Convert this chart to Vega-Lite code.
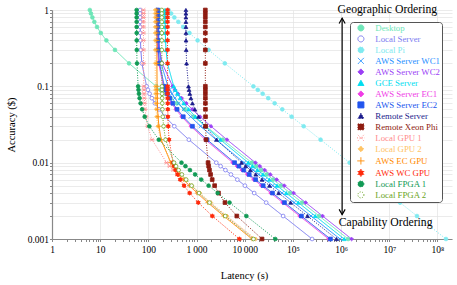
{
"$schema":"https://vega.github.io/schema/vega-lite/v6.json",
"width":400,"height":229,
"autosize":{"type":"none"},
"padding":{"left":52,"top":10,"right":5,"bottom":46},
"background":"white",
"config":{"font":"Liberation Serif","view":{"stroke":null}},
"datasets":{
"pts":[
{"s":"Desktop","a":1,"l":6.1},{"s":"Desktop","a":0.9,"l":6.43},{"s":"Desktop","a":0.8,"l":6.89},{"s":"Desktop","a":0.7,"l":7.56},{"s":"Desktop","a":0.6,"l":8.59},{"s":"Desktop","a":0.5,"l":10.3},{"s":"Desktop","a":0.4,"l":13.45},{"s":"Desktop","a":0.3,"l":20.26},{"s":"Desktop","a":0.2,"l":39.7},{"s":"Desktop","a":0.1,"l":144.7},{"s":"Desktop","a":0.09,"l":177.5},{"s":"Desktop","a":0.08,"l":223.4},{"s":"Desktop","a":0.07,"l":290.4},{"s":"Desktop","a":0.06,"l":393.6},{"s":"Desktop","a":0.05,"l":564.7},{"s":"Desktop","a":0.04,"l":879.7},{"s":"Desktop","a":0.03,"l":1560},{"s":"Desktop","a":0.02,"l":3505},{"s":"Desktop","a":0.01,"l":14005},{"s":"Desktop","a":0.009,"l":17289},{"s":"Desktop","a":0.008,"l":21880},{"s":"Desktop","a":0.007,"l":28576},{"s":"Desktop","a":0.006,"l":38894},{"s":"Desktop","a":0.005,"l":56005},{"s":"Desktop","a":0.004,"l":87505},{"s":"Desktop","a":0.003,"l":155560},{"s":"Desktop","a":0.002,"l":350005},{"s":"Desktop","a":0.001,"l":1400005},
{"s":"Local Server","a":1,"l":67.25},{"s":"Local Server","a":0.9,"l":67.31},{"s":"Local Server","a":0.8,"l":67.39},{"s":"Local Server","a":0.7,"l":67.51},{"s":"Local Server","a":0.6,"l":67.69},{"s":"Local Server","a":0.5,"l":68},{"s":"Local Server","a":0.4,"l":68.56},{"s":"Local Server","a":0.3,"l":69.78},{"s":"Local Server","a":0.2,"l":73.25},{"s":"Local Server","a":0.1,"l":92},{"s":"Local Server","a":0.09,"l":97.87},{"s":"Local Server","a":0.08,"l":106.1},{"s":"Local Server","a":0.07,"l":118},{"s":"Local Server","a":0.06,"l":136.4},{"s":"Local Server","a":0.05,"l":167},{"s":"Local Server","a":0.04,"l":223.3},{"s":"Local Server","a":0.03,"l":344.8},{"s":"Local Server","a":0.02,"l":692},{"s":"Local Server","a":0.01,"l":2567},{"s":"Local Server","a":0.009,"l":3153},{"s":"Local Server","a":0.008,"l":3973},{"s":"Local Server","a":0.007,"l":5169},{"s":"Local Server","a":0.006,"l":7011},{"s":"Local Server","a":0.005,"l":10067},{"s":"Local Server","a":0.004,"l":15692},{"s":"Local Server","a":0.003,"l":27845},{"s":"Local Server","a":0.002,"l":62567},{"s":"Local Server","a":0.001,"l":250067},
{"s":"Local Pi","a":1,"l":262},{"s":"Local Pi","a":0.9,"l":297.2},{"s":"Local Pi","a":0.8,"l":346.4},{"s":"Local Pi","a":0.7,"l":418.1},{"s":"Local Pi","a":0.6,"l":528.7},{"s":"Local Pi","a":0.5,"l":712},{"s":"Local Pi","a":0.4,"l":1049.5},{"s":"Local Pi","a":0.3,"l":1778.7},{"s":"Local Pi","a":0.2,"l":3862},{"s":"Local Pi","a":0.1,"l":15112},{"s":"Local Pi","a":0.09,"l":18631},{"s":"Local Pi","a":0.08,"l":23550},{"s":"Local Pi","a":0.07,"l":30724},{"s":"Local Pi","a":0.06,"l":41779},{"s":"Local Pi","a":0.05,"l":60112},{"s":"Local Pi","a":0.04,"l":93862},{"s":"Local Pi","a":0.03,"l":166779},{"s":"Local Pi","a":0.02,"l":375112},{"s":"Local Pi","a":0.01,"l":1500112},{"s":"Local Pi","a":0.009,"l":1851964},{"s":"Local Pi","a":0.008,"l":2343862},{"s":"Local Pi","a":0.007,"l":3061336},{"s":"Local Pi","a":0.006,"l":4166779},{"s":"Local Pi","a":0.005,"l":6000112},{"s":"Local Pi","a":0.004,"l":9375112},{"s":"Local Pi","a":0.003,"l":16666779},{"s":"Local Pi","a":0.002,"l":37500112},{"s":"Local Pi","a":0.001,"l":150000112},
{"s":"AWS Server WC1","a":1,"l":160.95},{"s":"AWS Server WC1","a":0.9,"l":161.17},{"s":"AWS Server WC1","a":0.8,"l":161.48},{"s":"AWS Server WC1","a":0.7,"l":161.94},{"s":"AWS Server WC1","a":0.6,"l":162.64},{"s":"AWS Server WC1","a":0.5,"l":163.8},{"s":"AWS Server WC1","a":0.4,"l":165.94},{"s":"AWS Server WC1","a":0.3,"l":170.56},{"s":"AWS Server WC1","a":0.2,"l":183.75},{"s":"AWS Server WC1","a":0.1,"l":255},{"s":"AWS Server WC1","a":0.09,"l":277.3},{"s":"AWS Server WC1","a":0.08,"l":308.4},{"s":"AWS Server WC1","a":0.07,"l":353.9},{"s":"AWS Server WC1","a":0.06,"l":423.9},{"s":"AWS Server WC1","a":0.05,"l":540},{"s":"AWS Server WC1","a":0.04,"l":753.8},{"s":"AWS Server WC1","a":0.03,"l":1215.6},{"s":"AWS Server WC1","a":0.02,"l":2535},{"s":"AWS Server WC1","a":0.01,"l":9660},{"s":"AWS Server WC1","a":0.009,"l":11889},{"s":"AWS Server WC1","a":0.008,"l":15004},{"s":"AWS Server WC1","a":0.007,"l":19548},{"s":"AWS Server WC1","a":0.006,"l":26549},{"s":"AWS Server WC1","a":0.005,"l":38160},{"s":"AWS Server WC1","a":0.004,"l":59535},{"s":"AWS Server WC1","a":0.003,"l":105716},{"s":"AWS Server WC1","a":0.002,"l":237660},{"s":"AWS Server WC1","a":0.001,"l":950160},
{"s":"AWS Server WC2","a":1,"l":154.65},{"s":"AWS Server WC2","a":0.9,"l":155.04},{"s":"AWS Server WC2","a":0.8,"l":155.58},{"s":"AWS Server WC2","a":0.7,"l":156.37},{"s":"AWS Server WC2","a":0.6,"l":157.58},{"s":"AWS Server WC2","a":0.5,"l":159.6},{"s":"AWS Server WC2","a":0.4,"l":163.31},{"s":"AWS Server WC2","a":0.3,"l":171.33},{"s":"AWS Server WC2","a":0.2,"l":194.25},{"s":"AWS Server WC2","a":0.1,"l":318},{"s":"AWS Server WC2","a":0.09,"l":356.7},{"s":"AWS Server WC2","a":0.08,"l":410.8},{"s":"AWS Server WC2","a":0.07,"l":489.7},{"s":"AWS Server WC2","a":0.06,"l":611.3},{"s":"AWS Server WC2","a":0.05,"l":813},{"s":"AWS Server WC2","a":0.04,"l":1184},{"s":"AWS Server WC2","a":0.03,"l":1986},{"s":"AWS Server WC2","a":0.02,"l":4278},{"s":"AWS Server WC2","a":0.01,"l":16653},{"s":"AWS Server WC2","a":0.009,"l":20524},{"s":"AWS Server WC2","a":0.008,"l":25934},{"s":"AWS Server WC2","a":0.007,"l":33826},{"s":"AWS Server WC2","a":0.006,"l":45987},{"s":"AWS Server WC2","a":0.005,"l":66153},{"s":"AWS Server WC2","a":0.004,"l":103278},{"s":"AWS Server WC2","a":0.003,"l":183486},{"s":"AWS Server WC2","a":0.002,"l":412653},{"s":"AWS Server WC2","a":0.001,"l":1650153},
{"s":"GCE Server","a":1,"l":221.16},{"s":"GCE Server","a":0.9,"l":221.43},{"s":"GCE Server","a":0.8,"l":221.81},{"s":"GCE Server","a":0.7,"l":222.37},{"s":"GCE Server","a":0.6,"l":223.22},{"s":"GCE Server","a":0.5,"l":224.64},{"s":"GCE Server","a":0.4,"l":227.25},{"s":"GCE Server","a":0.3,"l":232.89},{"s":"GCE Server","a":0.2,"l":249},{"s":"GCE Server","a":0.1,"l":336},{"s":"GCE Server","a":0.09,"l":363.2},{"s":"GCE Server","a":0.08,"l":401.3},{"s":"GCE Server","a":0.07,"l":456.7},{"s":"GCE Server","a":0.06,"l":542.2},{"s":"GCE Server","a":0.05,"l":684},{"s":"GCE Server","a":0.04,"l":945},{"s":"GCE Server","a":0.03,"l":1508.9},{"s":"GCE Server","a":0.02,"l":3120},{"s":"GCE Server","a":0.01,"l":11820},{"s":"GCE Server","a":0.009,"l":14541},{"s":"GCE Server","a":0.008,"l":18345},{"s":"GCE Server","a":0.007,"l":23893},{"s":"GCE Server","a":0.006,"l":32442},{"s":"GCE Server","a":0.005,"l":46620},{"s":"GCE Server","a":0.004,"l":72720},{"s":"GCE Server","a":0.003,"l":129109},{"s":"GCE Server","a":0.002,"l":290220},{"s":"GCE Server","a":0.001,"l":1160220},
{"s":"AWS Server EC1","a":1,"l":150.55},{"s":"AWS Server EC1","a":0.9,"l":150.68},{"s":"AWS Server EC1","a":0.8,"l":150.86},{"s":"AWS Server EC1","a":0.7,"l":151.12},{"s":"AWS Server EC1","a":0.6,"l":151.53},{"s":"AWS Server EC1","a":0.5,"l":152.2},{"s":"AWS Server EC1","a":0.4,"l":153.44},{"s":"AWS Server EC1","a":0.3,"l":156.11},{"s":"AWS Server EC1","a":0.2,"l":163.75},{"s":"AWS Server EC1","a":0.1,"l":205},{"s":"AWS Server EC1","a":0.09,"l":217.9},{"s":"AWS Server EC1","a":0.08,"l":235.9},{"s":"AWS Server EC1","a":0.07,"l":262.2},{"s":"AWS Server EC1","a":0.06,"l":302.8},{"s":"AWS Server EC1","a":0.05,"l":370},{"s":"AWS Server EC1","a":0.04,"l":493.8},{"s":"AWS Server EC1","a":0.03,"l":761.1},{"s":"AWS Server EC1","a":0.02,"l":1525},{"s":"AWS Server EC1","a":0.01,"l":5650},{"s":"AWS Server EC1","a":0.009,"l":6940},{"s":"AWS Server EC1","a":0.008,"l":8744},{"s":"AWS Server EC1","a":0.007,"l":11374},{"s":"AWS Server EC1","a":0.006,"l":15428},{"s":"AWS Server EC1","a":0.005,"l":22150},{"s":"AWS Server EC1","a":0.004,"l":34525},{"s":"AWS Server EC1","a":0.003,"l":61261},{"s":"AWS Server EC1","a":0.002,"l":137650},{"s":"AWS Server EC1","a":0.001,"l":550150},
{"s":"AWS Server EC2","a":1,"l":155.6},{"s":"AWS Server EC2","a":0.9,"l":155.74},{"s":"AWS Server EC2","a":0.8,"l":155.94},{"s":"AWS Server EC2","a":0.7,"l":156.22},{"s":"AWS Server EC2","a":0.6,"l":156.67},{"s":"AWS Server EC2","a":0.5,"l":157.4},{"s":"AWS Server EC2","a":0.4,"l":158.75},{"s":"AWS Server EC2","a":0.3,"l":161.67},{"s":"AWS Server EC2","a":0.2,"l":170},{"s":"AWS Server EC2","a":0.1,"l":215},{"s":"AWS Server EC2","a":0.09,"l":229.1},{"s":"AWS Server EC2","a":0.08,"l":248.8},{"s":"AWS Server EC2","a":0.07,"l":277.4},{"s":"AWS Server EC2","a":0.06,"l":321.7},{"s":"AWS Server EC2","a":0.05,"l":395},{"s":"AWS Server EC2","a":0.04,"l":530},{"s":"AWS Server EC2","a":0.03,"l":821.7},{"s":"AWS Server EC2","a":0.02,"l":1655},{"s":"AWS Server EC2","a":0.01,"l":6155},{"s":"AWS Server EC2","a":0.009,"l":7563},{"s":"AWS Server EC2","a":0.008,"l":9530},{"s":"AWS Server EC2","a":0.007,"l":12400},{"s":"AWS Server EC2","a":0.006,"l":16822},{"s":"AWS Server EC2","a":0.005,"l":24155},{"s":"AWS Server EC2","a":0.004,"l":37655},{"s":"AWS Server EC2","a":0.003,"l":66822},{"s":"AWS Server EC2","a":0.002,"l":150155},{"s":"AWS Server EC2","a":0.001,"l":600155},
{"s":"Remote Server","a":1,"l":600.8},{"s":"Remote Server","a":0.9,"l":600.99},{"s":"Remote Server","a":0.8,"l":601.25},{"s":"Remote Server","a":0.7,"l":601.63},{"s":"Remote Server","a":0.6,"l":602.22},{"s":"Remote Server","a":0.5,"l":603.2},{"s":"Remote Server","a":0.4,"l":605},{"s":"Remote Server","a":0.3,"l":608.9},{"s":"Remote Server","a":0.2,"l":620},{"s":"Remote Server","a":0.1,"l":680},{"s":"Remote Server","a":0.09,"l":698.8},{"s":"Remote Server","a":0.08,"l":725},{"s":"Remote Server","a":0.07,"l":763.3},{"s":"Remote Server","a":0.06,"l":822.2},{"s":"Remote Server","a":0.05,"l":920},{"s":"Remote Server","a":0.04,"l":1100},{"s":"Remote Server","a":0.03,"l":1488.9},{"s":"Remote Server","a":0.02,"l":2600},{"s":"Remote Server","a":0.01,"l":8600},{"s":"Remote Server","a":0.009,"l":10477},{"s":"Remote Server","a":0.008,"l":13100},{"s":"Remote Server","a":0.007,"l":16927},{"s":"Remote Server","a":0.006,"l":22822},{"s":"Remote Server","a":0.005,"l":32600},{"s":"Remote Server","a":0.004,"l":50600},{"s":"Remote Server","a":0.003,"l":89489},{"s":"Remote Server","a":0.002,"l":200600},{"s":"Remote Server","a":0.001,"l":800600},
{"s":"Remote Xeon Phi","a":1,"l":1520},{"s":"Remote Xeon Phi","a":0.9,"l":1520},{"s":"Remote Xeon Phi","a":0.8,"l":1520},{"s":"Remote Xeon Phi","a":0.7,"l":1520.1},{"s":"Remote Xeon Phi","a":0.6,"l":1520.1},{"s":"Remote Xeon Phi","a":0.5,"l":1520.1},{"s":"Remote Xeon Phi","a":0.4,"l":1520.1},{"s":"Remote Xeon Phi","a":0.3,"l":1520.2},{"s":"Remote Xeon Phi","a":0.2,"l":1520.5},{"s":"Remote Xeon Phi","a":0.1,"l":1522.1},{"s":"Remote Xeon Phi","a":0.09,"l":1522.6},{"s":"Remote Xeon Phi","a":0.08,"l":1523.3},{"s":"Remote Xeon Phi","a":0.07,"l":1524.3},{"s":"Remote Xeon Phi","a":0.06,"l":1525.9},{"s":"Remote Xeon Phi","a":0.05,"l":1528.5},{"s":"Remote Xeon Phi","a":0.04,"l":1533.3},{"s":"Remote Xeon Phi","a":0.03,"l":1543.7},{"s":"Remote Xeon Phi","a":0.02,"l":1573},{"s":"Remote Xeon Phi","a":0.01,"l":1733},{"s":"Remote Xeon Phi","a":0.009,"l":1783},{"s":"Remote Xeon Phi","a":0.008,"l":1853},{"s":"Remote Xeon Phi","a":0.007,"l":1955},{"s":"Remote Xeon Phi","a":0.006,"l":2112},{"s":"Remote Xeon Phi","a":0.005,"l":2372},{"s":"Remote Xeon Phi","a":0.004,"l":2851},{"s":"Remote Xeon Phi","a":0.003,"l":3887},{"s":"Remote Xeon Phi","a":0.002,"l":6845},{"s":"Remote Xeon Phi","a":0.001,"l":22820},
{"s":"Local GPU 1","a":1,"l":79.02},{"s":"Local GPU 1","a":0.9,"l":79.02},{"s":"Local GPU 1","a":0.8,"l":79.03},{"s":"Local GPU 1","a":0.7,"l":79.03},{"s":"Local GPU 1","a":0.6,"l":79.04},{"s":"Local GPU 1","a":0.5,"l":79.06},{"s":"Local GPU 1","a":0.4,"l":79.1},{"s":"Local GPU 1","a":0.3,"l":79.18},{"s":"Local GPU 1","a":0.2,"l":79.4},{"s":"Local GPU 1","a":0.1,"l":80.6},{"s":"Local GPU 1","a":0.09,"l":80.98},{"s":"Local GPU 1","a":0.08,"l":81.5},{"s":"Local GPU 1","a":0.07,"l":82.27},{"s":"Local GPU 1","a":0.06,"l":83.44},{"s":"Local GPU 1","a":0.05,"l":85.4},{"s":"Local GPU 1","a":0.04,"l":89},{"s":"Local GPU 1","a":0.03,"l":96.78},{"s":"Local GPU 1","a":0.02,"l":119},{"s":"Local GPU 1","a":0.01,"l":239},{"s":"Local GPU 1","a":0.009,"l":276.5},{"s":"Local GPU 1","a":0.008,"l":329},{"s":"Local GPU 1","a":0.007,"l":405.5},{"s":"Local GPU 1","a":0.006,"l":523.4},{"s":"Local GPU 1","a":0.005,"l":719},{"s":"Local GPU 1","a":0.004,"l":1079},{"s":"Local GPU 1","a":0.003,"l":1856.8},{"s":"Local GPU 1","a":0.002,"l":4079},{"s":"Local GPU 1","a":0.001,"l":16079},
{"s":"Local GPU 2","a":1,"l":138.02},{"s":"Local GPU 2","a":0.9,"l":138.02},{"s":"Local GPU 2","a":0.8,"l":138.03},{"s":"Local GPU 2","a":0.7,"l":138.03},{"s":"Local GPU 2","a":0.6,"l":138.05},{"s":"Local GPU 2","a":0.5,"l":138.07},{"s":"Local GPU 2","a":0.4,"l":138.1},{"s":"Local GPU 2","a":0.3,"l":138.18},{"s":"Local GPU 2","a":0.2,"l":138.42},{"s":"Local GPU 2","a":0.1,"l":139.66},{"s":"Local GPU 2","a":0.09,"l":140.05},{"s":"Local GPU 2","a":0.08,"l":140.59},{"s":"Local GPU 2","a":0.07,"l":141.39},{"s":"Local GPU 2","a":0.06,"l":142.61},{"s":"Local GPU 2","a":0.05,"l":144.64},{"s":"Local GPU 2","a":0.04,"l":148.38},{"s":"Local GPU 2","a":0.03,"l":156.4},{"s":"Local GPU 2","a":0.02,"l":179.5},{"s":"Local GPU 2","a":0.01,"l":304},{"s":"Local GPU 2","a":0.009,"l":343},{"s":"Local GPU 2","a":0.008,"l":397.4},{"s":"Local GPU 2","a":0.007,"l":476.8},{"s":"Local GPU 2","a":0.006,"l":599.1},{"s":"Local GPU 2","a":0.005,"l":802},{"s":"Local GPU 2","a":0.004,"l":1175.5},{"s":"Local GPU 2","a":0.003,"l":1982},{"s":"Local GPU 2","a":0.002,"l":4288},{"s":"Local GPU 2","a":0.001,"l":16738},
{"s":"AWS EC GPU","a":1,"l":150.01},{"s":"AWS EC GPU","a":0.9,"l":150.02},{"s":"AWS EC GPU","a":0.8,"l":150.02},{"s":"AWS EC GPU","a":0.7,"l":150.03},{"s":"AWS EC GPU","a":0.6,"l":150.04},{"s":"AWS EC GPU","a":0.5,"l":150.06},{"s":"AWS EC GPU","a":0.4,"l":150.09},{"s":"AWS EC GPU","a":0.3,"l":150.16},{"s":"AWS EC GPU","a":0.2,"l":150.35},{"s":"AWS EC GPU","a":0.1,"l":151.4},{"s":"AWS EC GPU","a":0.09,"l":151.73},{"s":"AWS EC GPU","a":0.08,"l":152.19},{"s":"AWS EC GPU","a":0.07,"l":152.86},{"s":"AWS EC GPU","a":0.06,"l":153.89},{"s":"AWS EC GPU","a":0.05,"l":155.6},{"s":"AWS EC GPU","a":0.04,"l":158.75},{"s":"AWS EC GPU","a":0.03,"l":165.56},{"s":"AWS EC GPU","a":0.02,"l":185},{"s":"AWS EC GPU","a":0.01,"l":290},{"s":"AWS EC GPU","a":0.009,"l":322.8},{"s":"AWS EC GPU","a":0.008,"l":368.75},{"s":"AWS EC GPU","a":0.007,"l":435.7},{"s":"AWS EC GPU","a":0.006,"l":538.9},{"s":"AWS EC GPU","a":0.005,"l":710},{"s":"AWS EC GPU","a":0.004,"l":1025},{"s":"AWS EC GPU","a":0.003,"l":1705.6},{"s":"AWS EC GPU","a":0.002,"l":3650},{"s":"AWS EC GPU","a":0.001,"l":14150},
{"s":"AWS WC GPU","a":1,"l":250.01},{"s":"AWS WC GPU","a":0.9,"l":250.01},{"s":"AWS WC GPU","a":0.8,"l":250.01},{"s":"AWS WC GPU","a":0.7,"l":250.02},{"s":"AWS WC GPU","a":0.6,"l":250.02},{"s":"AWS WC GPU","a":0.5,"l":250.03},{"s":"AWS WC GPU","a":0.4,"l":250.05},{"s":"AWS WC GPU","a":0.3,"l":250.08},{"s":"AWS WC GPU","a":0.2,"l":250.19},{"s":"AWS WC GPU","a":0.1,"l":250.75},{"s":"AWS WC GPU","a":0.09,"l":250.93},{"s":"AWS WC GPU","a":0.08,"l":251.17},{"s":"AWS WC GPU","a":0.07,"l":251.53},{"s":"AWS WC GPU","a":0.06,"l":252.08},{"s":"AWS WC GPU","a":0.05,"l":253},{"s":"AWS WC GPU","a":0.04,"l":254.69},{"s":"AWS WC GPU","a":0.03,"l":258.3},{"s":"AWS WC GPU","a":0.02,"l":268.75},{"s":"AWS WC GPU","a":0.01,"l":325},{"s":"AWS WC GPU","a":0.009,"l":342.6},{"s":"AWS WC GPU","a":0.008,"l":367.2},{"s":"AWS WC GPU","a":0.007,"l":403.1},{"s":"AWS WC GPU","a":0.006,"l":458.3},{"s":"AWS WC GPU","a":0.005,"l":550},{"s":"AWS WC GPU","a":0.004,"l":718.75},{"s":"AWS WC GPU","a":0.003,"l":1083.3},{"s":"AWS WC GPU","a":0.002,"l":2125},{"s":"AWS WC GPU","a":0.001,"l":7750},
{"s":"Local FPGA 1","a":1,"l":57.04},{"s":"Local FPGA 1","a":0.9,"l":57.05},{"s":"Local FPGA 1","a":0.8,"l":57.07},{"s":"Local FPGA 1","a":0.7,"l":57.09},{"s":"Local FPGA 1","a":0.6,"l":57.12},{"s":"Local FPGA 1","a":0.5,"l":57.17},{"s":"Local FPGA 1","a":0.4,"l":57.27},{"s":"Local FPGA 1","a":0.3,"l":57.48},{"s":"Local FPGA 1","a":0.2,"l":58.08},{"s":"Local FPGA 1","a":0.1,"l":61.3},{"s":"Local FPGA 1","a":0.09,"l":62.31},{"s":"Local FPGA 1","a":0.08,"l":63.72},{"s":"Local FPGA 1","a":0.07,"l":65.78},{"s":"Local FPGA 1","a":0.06,"l":68.94},{"s":"Local FPGA 1","a":0.05,"l":74.2},{"s":"Local FPGA 1","a":0.04,"l":83.88},{"s":"Local FPGA 1","a":0.03,"l":104.8},{"s":"Local FPGA 1","a":0.02,"l":164.5},{"s":"Local FPGA 1","a":0.01,"l":487},{"s":"Local FPGA 1","a":0.009,"l":587.9},{"s":"Local FPGA 1","a":0.008,"l":728.9},{"s":"Local FPGA 1","a":0.007,"l":934.5},{"s":"Local FPGA 1","a":0.006,"l":1251.4},{"s":"Local FPGA 1","a":0.005,"l":1777},{"s":"Local FPGA 1","a":0.004,"l":2744.5},{"s":"Local FPGA 1","a":0.003,"l":4834.8},{"s":"Local FPGA 1","a":0.002,"l":10807},{"s":"Local FPGA 1","a":0.001,"l":43057},
{"s":"Local FPGA 2","a":1,"l":190.02},{"s":"Local FPGA 2","a":0.9,"l":190.02},{"s":"Local FPGA 2","a":0.8,"l":190.02},{"s":"Local FPGA 2","a":0.7,"l":190.03},{"s":"Local FPGA 2","a":0.6,"l":190.04},{"s":"Local FPGA 2","a":0.5,"l":190.06},{"s":"Local FPGA 2","a":0.4,"l":190.09},{"s":"Local FPGA 2","a":0.3,"l":190.17},{"s":"Local FPGA 2","a":0.2,"l":190.38},{"s":"Local FPGA 2","a":0.1,"l":191.5},{"s":"Local FPGA 2","a":0.09,"l":191.85},{"s":"Local FPGA 2","a":0.08,"l":192.34},{"s":"Local FPGA 2","a":0.07,"l":193.06},{"s":"Local FPGA 2","a":0.06,"l":194.17},{"s":"Local FPGA 2","a":0.05,"l":196},{"s":"Local FPGA 2","a":0.04,"l":199.38},{"s":"Local FPGA 2","a":0.03,"l":206.67},{"s":"Local FPGA 2","a":0.02,"l":227.5},{"s":"Local FPGA 2","a":0.01,"l":340},{"s":"Local FPGA 2","a":0.009,"l":375.2},{"s":"Local FPGA 2","a":0.008,"l":424.4},{"s":"Local FPGA 2","a":0.007,"l":496.1},{"s":"Local FPGA 2","a":0.006,"l":606.7},{"s":"Local FPGA 2","a":0.005,"l":790},{"s":"Local FPGA 2","a":0.004,"l":1127.5},{"s":"Local FPGA 2","a":0.003,"l":1856.7},{"s":"Local FPGA 2","a":0.002,"l":3940},{"s":"Local FPGA 2","a":0.001,"l":15190}
],
"notes":[{"t":"Geographic Ordering","l":9090000,"a":0.914},{"t":"Capability Ordering","l":8380000,"a":0.0015}]
},
"layer":[
{"data":{"name":"pts"},
 "mark":{"type":"line","strokeWidth":1},
 "encoding":{
  "x":{"field":"l","type":"quantitative","scale":{"type":"log","domain":[1,200000000],"nice":false},
   "axis":{"values":[1,2,3,4,5,6,7,8,9,10,20,30,40,50,60,70,80,90,100,200,300,400,500,600,700,800,900,1000,2000,3000,4000,5000,6000,7000,8000,9000,10000,20000,30000,40000,50000,60000,70000,80000,90000,100000,200000,300000,400000,500000,600000,700000,800000,900000,1000000,2000000,3000000,4000000,5000000,6000000,7000000,8000000,9000000,10000000,20000000,30000000,40000000,50000000,60000000,70000000,80000000,90000000,100000000],
    "labelExpr":"abs(log(datum.value)/LN10 - round(log(datum.value)/LN10)) < 0.001 ? ['1','10','100','1\u2009000','10\u2009000','10\u2075','10\u2076','10\u2077','10\u2078'][round(log(datum.value)/LN10)] : ''",
    "labelOverlap":false,"labelFlush":false,"labelFontSize":9.5,"labelColor":"black","labelPadding":3,
    "tickSize":2.5,"tickColor":"#888","domainColor":"#888","domainWidth":1.2,
    "grid":true,"gridColor":"#e2e2e2","gridWidth":0.7,
    "gridOpacity":{"condition":{"test":"abs(log(datum.value)/LN10 - round(log(datum.value)/LN10)) < 0.001","value":1},"value":0},
    "title":"Latency (s)","titleFontSize":10.5,"titleFontWeight":"normal","titleColor":"black","titlePadding":16,"titleX":192}},
  "y":{"field":"a","type":"quantitative","scale":{"type":"log","domain":[0.001,1],"nice":false},
   "axis":{"values":[0.001,0.002,0.003,0.004,0.005,0.006,0.007,0.008,0.009,0.01,0.02,0.03,0.04,0.05,0.06,0.07,0.08,0.09,0.1,0.2,0.3,0.4,0.5,0.6,0.7,0.8,0.9,1],
    "labelExpr":"abs(log(datum.value)/LN10 - round(log(datum.value)/LN10)) < 0.001 ? ['1','0.1','0.01','0.001'][-round(log(datum.value)/LN10)] : ''",
    "labelOverlap":false,"labelFlush":false,"labelFontSize":9.5,"labelColor":"black","labelPadding":1,
    "tickSize":2.5,"tickColor":"#888","domainColor":"#888","domainWidth":1.2,
    "grid":true,"gridColor":"#e2e2e2","gridWidth":0.7,
    "title":"Accuracy ($)","titleFontSize":10.5,"titleFontWeight":"normal","titleColor":"black","titlePadding":11}},
  "stroke":{"field":"s","type":"nominal",
   "scale":{"domain":["Desktop","Local Server","Local Pi","AWS Server WC1","AWS Server WC2","GCE Server","AWS Server EC1","AWS Server EC2","Remote Server","Remote Xeon Phi","Local GPU 1","Local GPU 2","AWS EC GPU","AWS WC GPU","Local FPGA 1","Local FPGA 2"],
    "range":["#6EE6B8","#7B7BF0","#7EEAF0","#1F8FFF","#9B3FF5","#00DDF0","#F03CE6","#2255EE","#1C1C8C","#8E1B10","#FF8C8C","#FFC466","#FF8A00","#FF2A0A","#119A55","#6BA524"]}},
  "strokeDash":{"field":"s","type":"nominal",
   "scale":{"domain":["Desktop","Local Server","Local Pi","AWS Server WC1","AWS Server WC2","GCE Server","AWS Server EC1","AWS Server EC2","Remote Server","Remote Xeon Phi","Local GPU 1","Local GPU 2","AWS EC GPU","AWS WC GPU","Local FPGA 1","Local FPGA 2"],
    "range":[[1,0],[1,0],[1,1.5],[1,0],[1,0],[1,0],[1,0],[1,0],[1,1.5],[1,1.5],[1,1.5],[1,1.5],[1,0],[1,1.5],[1,1.5],[1,1.5]]},
   "legend":null},
  "order":{"field":"a","sort":"descending"}
 }},
{"data":{"name":"pts"},
 "mark":{"type":"point","size":14,"strokeWidth":0.8,"opacity":1},
 "encoding":{
  "x":{"field":"l","type":"quantitative"},
  "y":{"field":"a","type":"quantitative"},
  "stroke":{"field":"s","type":"nominal",
   "legend":{"title":null,"orient":"none","legendX":298,"legendY":12,"padding":1.5,"fillColor":"white","strokeColor":"#555","cornerRadius":3,
    "labelFontSize":8.8,"labelOffset":10,"symbolOffset":5,"symbolSize":36,"rowPadding":0,"labelLimit":200,"symbolStrokeWidth":1,
    "labelColor":{"expr":"scale('stroke', datum.value)"}}},
  "fill":{"field":"s","type":"nominal",
   "scale":{"domain":["Desktop","Local Server","Local Pi","AWS Server WC1","AWS Server WC2","GCE Server","AWS Server EC1","AWS Server EC2","Remote Server","Remote Xeon Phi","Local GPU 1","Local GPU 2","AWS EC GPU","AWS WC GPU","Local FPGA 1","Local FPGA 2"],
    "range":["#6EE6B8","white","#7EEAF0","#1F8FFF","#9B3FF5","#00DDF0","#F03CE6","#2255EE","#1C1C8C","#8E1B10","#FF8C8C","#FFC466","#FF8A00","#FF2A0A","#119A55","white"]},
   "legend":null},
  "shape":{"field":"s","type":"nominal",
   "scale":{"domain":["Desktop","Local Server","Local Pi","AWS Server WC1","AWS Server WC2","GCE Server","AWS Server EC1","AWS Server EC2","Remote Server","Remote Xeon Phi","Local GPU 1","Local GPU 2","AWS EC GPU","AWS WC GPU","Local FPGA 1","Local FPGA 2"],
    "range":["circle","circle","circle","M-1,-1L1,1M-1,1L1,-1","diamond","triangle-up","diamond","square","triangle-up","square","M-1,-1L1,1M-1,1L1,-1M-1.3,0L1.3,0","diamond","M-1.2,0L1.2,0M0,-1.2L0,1.2","M0,-1.2L1.04,0.6L-1.04,0.6ZM0,1.2L-1.04,-0.6L1.04,-0.6Z","circle","circle"]},
   "legend":null}
 }},
{"data":{"values":[{"l":1050000,"a":0.779,"a2":0.00209}]},
 "mark":{"type":"rule","stroke":"black","strokeWidth":1.2},
 "encoding":{"x":{"field":"l","type":"quantitative"},"y":{"field":"a","type":"quantitative"},"y2":{"field":"a2"}}},
{"data":{"values":[{"l":1050000,"a":0.779}]},
 "mark":{"type":"point","shape":"M-1.1,1.9L0,0L1.1,1.9","size":30,"stroke":"black","strokeWidth":1.2,"filled":false,"opacity":1},
 "encoding":{"x":{"field":"l","type":"quantitative"},"y":{"field":"a","type":"quantitative"}}},
{"data":{"values":[{"l":1050000,"a":0.00209}]},
 "mark":{"type":"point","shape":"M-1.1,-1.9L0,0L1.1,-1.9","size":30,"stroke":"black","strokeWidth":1.2,"filled":false,"opacity":1},
 "encoding":{"x":{"field":"l","type":"quantitative"},"y":{"field":"a","type":"quantitative"}}},
{"data":{"name":"notes"},
 "mark":{"type":"text","fontSize":11.7,"color":"black","align":"center","baseline":"alphabetic"},
 "encoding":{"x":{"field":"l","type":"quantitative"},"y":{"field":"a","type":"quantitative"},"text":{"field":"t"}}}
]
}
